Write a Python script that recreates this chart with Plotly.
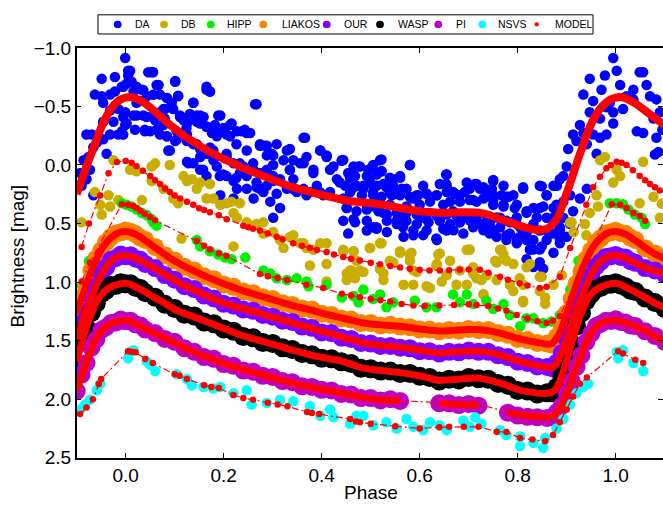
import plotly.graph_objects as go

W, H = 663, 510

# ------------------------------------------------------------------ data
BAND_PHASE = [-0.10, -0.09, -0.08, -0.07, -0.06, -0.05, -0.04, -0.03, -0.02, -0.01,
              0.00, 0.01, 0.02, 0.03, 0.04,
              0.06, 0.08, 0.10, 0.12, 0.14, 0.16, 0.18, 0.20, 0.22, 0.24, 0.26, 0.28,
              0.30, 0.32, 0.34, 0.36, 0.38, 0.40, 0.42, 0.44, 0.46, 0.48, 0.50, 0.52,
              0.54, 0.56, 0.58, 0.60, 0.62, 0.64, 0.66, 0.68, 0.70, 0.72, 0.74, 0.76,
              0.78, 0.80, 0.82, 0.84, 0.86,
              0.87, 0.88, 0.89, 0.90, 0.91, 0.92, 0.93, 0.94, 0.95, 0.96, 0.97, 0.98,
              0.99, 1.00, 1.01, 1.02, 1.03, 1.04,
              1.06, 1.08, 1.10]

DA_MODEL = [0.25, 0.13, 0.01, -0.10, -0.21, -0.32, -0.41, -0.48, -0.53, -0.56,
            -0.575, -0.58, -0.57, -0.55, -0.525,
            -0.455, -0.38, -0.31, -0.245, -0.195, -0.14, -0.095, -0.05, -0.015, 0.027,
            0.058, 0.093, 0.125, 0.158, 0.188, 0.21, 0.233, 0.255, 0.275, 0.295, 0.31,
            0.318, 0.325, 0.336, 0.35, 0.367, 0.382, 0.394, 0.402, 0.408, 0.407, 0.404,
            0.403, 0.407, 0.425, 0.455, 0.485, 0.513, 0.538, 0.556, 0.545,
            0.51, 0.46, 0.36, 0.24, 0.12, -0.01, -0.13, -0.25, -0.35, -0.43, -0.49,
            -0.53, -0.56, -0.575, -0.58, -0.57, -0.55, -0.527,
            -0.465, -0.40, -0.34]

LIAKOS_MODEL = [1.27, 1.14, 1.02, 0.905, 0.81, 0.725, 0.665, 0.62, 0.59, 0.572,
                0.567, 0.575, 0.592, 0.615, 0.645,
                0.705, 0.765, 0.82, 0.865, 0.905, 0.945, 0.98, 1.015, 1.045, 1.075,
                1.10, 1.125, 1.15, 1.175, 1.20, 1.22, 1.24, 1.265, 1.285, 1.305, 1.325,
                1.345, 1.357, 1.365, 1.37, 1.377, 1.388, 1.40, 1.41, 1.418, 1.416, 1.41,
                1.405, 1.405, 1.415, 1.432, 1.455, 1.48, 1.50, 1.515, 1.53,
                1.525, 1.475, 1.39, 1.27, 1.14, 1.02, 0.905, 0.81, 0.725, 0.665, 0.62,
                0.59, 0.572, 0.567, 0.575, 0.592, 0.615, 0.645,
                0.705, 0.76, 0.80]
LIAKOS_DATA = [1.28, 1.13, 1.03, 0.90, 0.80, 0.73, 0.66, 0.615, 0.585, 0.575,
               0.56, 0.57, 0.59, 0.62, 0.64,
               0.70, 0.77, 0.815, 0.87, 0.90, 0.95, 0.975, 1.02, 1.04, 1.08,
               1.095, 1.13, 1.145, 1.18, 1.195, 1.225, 1.235, 1.27, 1.28, 1.31, 1.32,
               1.35, 1.35, 1.37, 1.365, 1.38, 1.385, 1.405, 1.405, 1.42, 1.41, 1.415,
               1.40, 1.41, 1.41, 1.435, 1.45, 1.485, 1.495, 1.52, 1.525,
               1.535, 1.465, 1.395, 1.265, 1.145, 1.015, 0.91, 0.805, 0.73, 0.66, 0.625,
               0.585, 0.575, 0.562, 0.58, 0.588, 0.62, 0.64,
               0.71, 0.755, 0.805]

OUR_MODEL = [1.49, 1.36, 1.24, 1.13, 1.03, 0.94, 0.87, 0.82, 0.79, 0.775,
             0.772, 0.78, 0.795, 0.815, 0.838,
             0.885, 0.935, 0.985, 1.03, 1.068, 1.108, 1.145, 1.178, 1.205, 1.227,
             1.25, 1.275, 1.30, 1.323, 1.348, 1.372, 1.395, 1.42, 1.443, 1.467, 1.49,
             1.515, 1.53, 1.54, 1.548, 1.555, 1.568, 1.582, 1.596, 1.605, 1.60, 1.592,
             1.59, 1.59, 1.60, 1.618, 1.645, 1.672, 1.695, 1.713, 1.728,
             1.73, 1.69, 1.60, 1.49, 1.36, 1.24, 1.13, 1.03, 0.94, 0.87, 0.82,
             0.79, 0.775, 0.772, 0.78, 0.795, 0.815, 0.838,
             0.875, 0.905, 0.93]
OUR_DATA = [1.50, 1.35, 1.25, 1.12, 1.04, 0.93, 0.875, 0.81, 0.795, 0.765,
            0.78, 0.77, 0.80, 0.81, 0.845,
            0.88, 0.94, 0.98, 1.035, 1.06, 1.115, 1.14, 1.185, 1.20, 1.235,
            1.245, 1.28, 1.295, 1.33, 1.34, 1.38, 1.39, 1.43, 1.435, 1.475, 1.485,
            1.52, 1.525, 1.545, 1.545, 1.56, 1.565, 1.59, 1.59, 1.61, 1.595, 1.60,
            1.585, 1.595, 1.595, 1.625, 1.64, 1.68, 1.69, 1.72, 1.725,
            1.735, 1.685, 1.605, 1.485, 1.365, 1.235, 1.135, 1.025, 0.945, 0.865, 0.825,
            0.785, 0.78, 0.768, 0.785, 0.79, 0.82, 0.835,
            0.88, 0.90, 0.935]

WASP_MODEL = [1.68, 1.52, 1.38, 1.27, 1.17, 1.11, 1.065, 1.04, 1.025, 1.013,
              1.01, 1.02, 1.04, 1.062, 1.085,
              1.135, 1.18, 1.232, 1.268, 1.298, 1.33, 1.363, 1.395, 1.428, 1.459,
              1.483, 1.507, 1.531, 1.555, 1.58, 1.603, 1.626, 1.642, 1.658, 1.674, 1.70,
              1.73, 1.744, 1.755, 1.764, 1.773, 1.786, 1.80, 1.82, 1.84, 1.835, 1.828,
              1.822, 1.82, 1.835, 1.858, 1.885, 1.917, 1.935, 1.948, 1.95,
              1.94, 1.90, 1.80, 1.67, 1.52, 1.38, 1.26, 1.165, 1.10, 1.065, 1.04,
              1.025, 1.013, 1.01, 1.02, 1.043, 1.063, 1.085,
              1.13, 1.178, 1.22]
WASP_DATA = [1.70, 1.51, 1.39, 1.26, 1.18, 1.10, 1.07, 1.03, 1.03, 1.005,
             1.015, 1.015, 1.045, 1.055, 1.09,
             1.13, 1.19, 1.225, 1.275, 1.29, 1.34, 1.355, 1.40, 1.42, 1.465,
             1.475, 1.515, 1.525, 1.56, 1.575, 1.61, 1.62, 1.65, 1.655, 1.68, 1.695,
             1.735, 1.74, 1.76, 1.76, 1.78, 1.78, 1.805, 1.815, 1.845, 1.83, 1.835,
             1.815, 1.825, 1.83, 1.865, 1.88, 1.925, 1.93, 1.955, 1.945,
             1.945, 1.895, 1.805, 1.665, 1.525, 1.375, 1.265, 1.16, 1.105, 1.06, 1.045,
             1.02, 1.018, 1.005, 1.025, 1.04, 1.07, 1.08,
             1.135, 1.175, 1.225]

PI_MODEL = [1.92, 1.80, 1.68, 1.57, 1.48, 1.42, 1.38, 1.355, 1.34, 1.33,
            1.328, 1.335, 1.355, 1.378, 1.40,
            1.44, 1.478, 1.518, 1.56, 1.60, 1.632, 1.663, 1.695, 1.722, 1.746,
            1.77, 1.793, 1.817, 1.84, 1.862, 1.882, 1.90, 1.915, 1.93, 1.947, 1.965,
            1.982, 1.995, 2.005, 2.008, 2.01, 2.015, 2.02, 2.025, 2.032, 2.04, 2.046,
            2.048, 2.05, 2.065, 2.09, 2.11, 2.132, 2.142, 2.148, 2.155,
            2.15, 2.115, 2.05, 1.95, 1.84, 1.73, 1.62, 1.515, 1.435, 1.38, 1.35,
            1.336, 1.328, 1.325, 1.335, 1.348, 1.362, 1.378,
            1.415, 1.465, 1.505]
PI_DATA = [1.93, 1.79, 1.69, 1.56, 1.49, 1.41, 1.385, 1.35, 1.345, 1.32,
           1.335, 1.33, 1.36, 1.37, 1.405,
           1.435, 1.485, 1.51, 1.565, 1.595, 1.64, 1.655, 1.70, 1.715, 1.755,
           1.765, 1.80, 1.81, 1.845, 1.855, 1.89, 1.895, 1.92, 1.925, 1.955, 1.96,
           1.99, 1.99, 2.01, 2.00, 2.015, None, None, None, 2.035, 2.035, 2.05,
           2.04, 2.055, None, None, 2.115, 2.14, 2.15, 2.155, 2.16,
           2.155, 2.11, 2.055, 1.945, 1.845, 1.725, 1.625, 1.51, 1.44, 1.375, 1.355,
           1.33, 1.332, 1.318, 1.34, 1.345, 1.37, 1.375,
           1.42, 1.46, 1.51]

DA_POINTS = [
    (-0.001, -0.914), (0.009, -0.805), (0.005, -0.764), (-0.008, -0.669), (-0.049, -0.737),
    (-0.063, -0.601), (-0.049, -0.587), (-0.032, -0.601), (-0.022, -0.628), (0.002, -0.696),
    (0.012, -0.71), (0.022, -0.669), (0.033, -0.642), (0.046, -0.792), (0.056, -0.792),
    (0.067, -0.683), (0.07, -0.601), (0.084, -0.573), (0.101, -0.71), (0.107, -0.587),
    (0.094, -0.532), (0.08, -0.478), (0.07, -0.451), (0.056, -0.423), (0.043, -0.41),
    (0.022, -0.423), (-0.001, -0.451), (-0.015, -0.478), (-0.032, -0.464), (-0.046, -0.369),
    (-0.08, -0.26), (-0.069, -0.26), (-0.059, -0.191), (-0.046, -0.219), (-0.032, -0.26),
    (-0.015, -0.26), (-0.008, -0.287), (0.002, -0.355), (0.019, -0.301), (0.039, -0.287),
    (0.05, -0.287), (0.07, -0.26), (0.084, -0.246), (0.101, -0.205), (0.087, -0.123),
    (0.111, -0.423), (0.118, -0.382), (0.125, -0.355), (0.131, -0.396), (0.138, -0.532),
    (0.145, -0.423), (0.152, -0.355), (0.159, -0.41), (0.165, -0.642), (0.172, -0.628),
    (0.176, -0.273), (0.165, -0.328), (0.182, -0.342), (0.193, -0.423), (0.186, -0.26),
    (0.199, -0.315), (0.206, -0.26), (0.213, -0.342), (0.227, -0.287), (0.237, -0.287),
    (0.247, -0.273), (0.267, -0.519), (0.274, -0.178), (0.284, -0.164), (0.298, -0.096),
    (0.308, -0.178), (0.288, -0.082), (0.301, 0.0), (0.329, -0.123), (0.342, -0.041),
    (0.335, 0.04), (0.356, -0.014), (0.366, -0.232), (0.369, -0.069), (0.383, 0.04),
    (0.397, -0.123), (0.41, -0.082), (0.424, 0.013), (0.441, -0.041), (0.454, 0.068),
    (0.465, 0.013), (0.471, 0.177), (0.458, 0.231), (0.444, 0.286), (0.451, 0.368),
    (0.465, 0.463), (0.431, 0.122), (0.417, 0.231), (0.403, 0.259), (0.39, 0.177),
    (0.376, 0.231), (0.363, 0.204), (0.349, 0.231), (0.342, 0.122), (0.329, 0.204),
    (0.315, 0.122), (0.301, 0.095), (0.295, 0.313), (0.301, 0.45), (0.315, 0.368),
    (0.288, 0.177), (0.281, 0.231), (0.267, 0.149), (0.247, 0.095), (0.233, 0.068),
    (0.22, 0.136), (0.206, 0.095), (0.199, 0.081), (0.186, 0.013), (0.193, 0.259),
    (0.22, 0.286), (0.227, 0.204), (0.247, 0.204), (0.261, 0.286), (0.274, 0.204),
    (0.274, 0.068), (0.261, 0.04), (0.24, 0.013), (0.22, -0.014), (0.206, -0.069),
    (0.179, -0.123), (0.165, -0.096), (0.152, -0.137), (0.138, -0.178), (0.125, -0.205),
    (0.125, -0.028), (0.138, -0.014), (0.152, 0.04), (0.165, 0.095), (0.125, -0.26),
    (0.104, -0.287), (0.077, -0.342), (-0.086, -0.041), (-0.093, 0.068), (-0.09, 0.177),
    (-0.066, 0.259), (-0.08, 0.122), (-0.073, 0.04), (-0.076, -0.069), (-0.039, -0.096),
    (-0.066, -0.151), (-0.022, -0.751), (-0.046, -0.532), (0.029, -0.546), (0.043, -0.587),
    (-0.025, -0.369), (0.022, -0.532),
    (0.478, 0.013), (0.495, 0.04), (0.502, 0.027), (0.519, -0.041), (0.522, 0.054),
    (0.498, 0.136), (0.485, 0.204), (0.512, 0.177), (0.532, 0.19), (0.546, 0.122),
    (0.56, 0.109), (0.573, 0.204), (0.553, 0.245), (0.58, 0.0), (0.594, 0.259),
    (0.614, 0.245), (0.634, 0.259), (0.655, 0.081), (0.655, 0.177), (0.668, 0.231),
    (0.682, 0.259), (0.702, 0.204), (0.716, 0.163), (0.723, 0.204), (0.737, 0.259),
    (0.75, 0.136), (0.777, 0.272), (0.747, 0.204), (0.702, 0.30), (0.519, 0.286),
    (0.539, 0.34), (0.573, 0.354), (0.60, 0.34), (0.621, 0.313), (0.648, 0.34),
    (0.682, 0.313), (0.716, 0.313), (0.75, 0.34), (0.771, 0.34), (0.798, 0.34),
    (0.811, 0.204), (0.832, 0.368), (0.849, 0.182), (0.859, 0.259), (0.873, 0.177),
    (0.886, 0.122), (0.893, 0.095), (0.90, 0.013), (0.903, -0.137), (0.913, -0.26),
    (0.92, -0.205), (0.927, -0.342), (0.934, -0.273), (0.941, -0.178), (0.947, -0.451),
    (0.954, -0.26), (0.961, -0.096), (0.968, -0.232), (0.981, -0.26), (0.995, -0.355),
    (1.015, -0.478), (1.022, -0.587), (1.009, -0.683), (1.002, -0.805), (0.995, -0.914),
    (0.978, -0.764), (0.947, -0.737), (0.934, -0.601), (0.954, -0.546), (0.971, -0.642),
    (0.988, -0.532), (1.036, -0.642), (1.049, -0.792), (1.056, -0.792), (1.063, -0.683),
    (1.07, -0.587), (1.083, -0.56), (1.043, -0.287), (1.056, -0.273), (1.077, -0.396),
    (1.083, -0.232), (1.087, -0.11), (1.036, -0.56), (0.968, -0.396), (0.981, -0.492),
    (0.995, -0.451), (0.893, 0.45), (0.879, 0.34), (0.859, 0.45), (0.845, 0.559),
    (0.832, 0.641), (0.818, 0.586), (0.798, 0.668), (0.777, 0.60), (0.75, 0.559),
    (0.73, 0.504), (0.682, 0.49), (0.655, 0.559), (0.634, 0.627), (0.614, 0.559),
    (0.587, 0.60), (0.566, 0.531), (0.553, 0.477), (0.526, 0.409), (0.505, 0.531),
    (0.492, 0.559), (0.845, 0.368), (0.825, 0.722), (0.805, 0.613), (0.886, 0.531),
    (0.907, 0.259), (0.913, 0.395), (0.927, 0.286), (0.941, 0.204), (0.893, 0.313),
    (0.886, 0.641), (0.492, 0.34), (0.512, 0.368), (0.566, 0.422), (0.607, 0.45),
    (0.641, 0.45), (0.668, 0.395), (0.696, 0.45), (0.716, 0.477), (0.764, 0.45),
    (0.784, 0.49), (0.798, 0.504), (0.75, 0.259), (0.662, 0.313), (0.587, 0.286),
    (0.539, 0.231), (0.505, 0.231), (0.641, 0.163), (0.607, 0.177), (0.696, 0.149),
    (0.771, 0.177), (0.791, 0.259), (0.818, 0.395), (0.832, 0.504), (0.859, 0.559),
    (0.873, 0.45), (0.832, 0.722), (0.849, 0.695), (0.505, 0.0), (1.09, -0.45),
    (1.095, -0.30), (1.08, -0.09),
    # denser core, second reading
    (0.444, -0.042), (0.475, 0.013), (0.502, 0.027), (0.522, -0.047), (0.522, 0.054),
    (0.580, 0.0), (0.468, 0.095), (0.492, 0.095), (0.512, 0.081), (0.539, 0.108),
    (0.560, 0.095), (0.448, 0.177), (0.465, 0.190), (0.485, 0.177), (0.505, 0.177),
    (0.526, 0.163), (0.546, 0.177), (0.563, 0.204), (0.482, 0.258), (0.505, 0.258),
    (0.522, 0.272), (0.543, 0.258), (0.560, 0.258), (0.580, 0.272), (0.597, 0.258),
    (0.614, 0.245), (0.635, 0.258), (0.655, 0.231), (0.672, 0.245), (0.692, 0.231),
    (0.713, 0.163), (0.730, 0.190), (0.750, 0.128), (0.747, 0.204), (0.767, 0.258),
    (0.781, 0.272), (0.654, 0.081), (0.654, 0.163), (0.709, 0.299), (0.730, 0.286),
    (0.750, 0.299), (0.771, 0.354), (0.794, 0.368), (0.811, 0.190), (0.845, 0.177),
    (0.859, 0.258), (0.880, 0.177), (0.798, 0.449), (0.818, 0.408), (0.839, 0.449),
    (0.852, 0.354), (0.873, 0.368), (0.451, 0.368), (0.471, 0.395), (0.492, 0.381),
    (0.516, 0.395), (0.533, 0.422), (0.553, 0.408), (0.573, 0.408), (0.594, 0.422),
    (0.614, 0.436), (0.635, 0.436), (0.655, 0.422), (0.675, 0.436), (0.696, 0.436),
    (0.716, 0.449), (0.737, 0.436), (0.757, 0.449), (0.777, 0.477), (0.805, 0.531),
    (0.444, 0.477), (0.468, 0.490), (0.492, 0.477), (0.512, 0.531), (0.533, 0.477),
    (0.553, 0.504), (0.573, 0.477), (0.594, 0.504), (0.618, 0.490), (0.641, 0.477),
    (0.662, 0.504), (0.682, 0.490), (0.703, 0.477), (0.723, 0.504), (0.743, 0.504),
    (0.764, 0.531), (0.784, 0.586), (0.454, 0.586), (0.512, 0.545), (0.533, 0.572),
    (0.567, 0.613), (0.587, 0.558), (0.607, 0.599), (0.635, 0.640), (0.648, 0.545),
    (0.669, 0.558), (0.689, 0.586), (0.709, 0.531), (0.730, 0.558), (0.743, 0.586),
    (0.757, 0.613), (0.777, 0.640), (0.798, 0.627), (0.818, 0.640), (0.825, 0.722),
    (0.845, 0.722), (0.859, 0.640), (0.873, 0.586), (0.886, 0.558), (0.900, 0.613),
    (0.907, 0.504), (0.886, 0.668), (0.873, 0.749), (0.845, 0.831), (0.818, 0.804),
    (0.832, 0.872), (0.852, 0.886),
    (0.005, -0.805), (0.053, -0.791), (0.101, -0.717), (0.165, -0.668), (0.172, -0.627),
    (-0.005, -0.668), (0.016, -0.627), (0.036, -0.641), (0.063, -0.682), (0.084, -0.573),
    (0.107, -0.592), (0.029, -0.546), (0.056, -0.600), (0.077, -0.477), (0.097, -0.477),
    (0.138, -0.532), (0.264, -0.518), (-0.005, -0.409), (0.016, -0.423), (0.036, -0.423),
    (0.060, -0.382), (0.080, -0.396), (0.111, -0.409), (0.131, -0.436), (0.152, -0.423),
    (0.189, -0.423), (-0.001, -0.341), (0.039, -0.300), (0.063, -0.300), (0.084, -0.246),
    (0.104, -0.218), (0.124, -0.314), (0.145, -0.368), (0.165, -0.327), (0.192, -0.286),
    (0.216, -0.355), (0.243, -0.300), (0.254, -0.273), (-0.005, -0.259), (0.090, -0.123),
    (0.128, -0.014), (0.152, -0.068), (0.172, -0.150), (0.186, -0.246), (0.213, -0.246),
    (0.226, -0.177), (0.247, -0.123), (0.274, -0.164), (0.288, -0.164), (0.301, -0.082),
    (0.322, -0.041), (0.335, -0.136), (0.363, -0.232), (0.397, -0.123), (0.410, -0.068),
    (0.441, -0.035), (0.192, 0.095), (0.226, 0.109), (0.267, 0.191), (0.301, 0.136),
    (0.335, 0.041), (0.363, -0.014), (0.383, 0.068), (0.417, 0.041), (0.437, 0.150),
    (0.458, 0.109), (0.342, 0.205), (0.369, 0.259), (0.397, 0.232), (0.458, 0.232),
    (0.308, 0.246), (0.260, -0.014), (0.288, 0.041), (0.158, 0.041), (0.179, -0.041),
    (0.145, -0.177), (0.206, -0.095), (0.233, -0.014),
]

DB_POINTS = [
    (-0.090, 0.49), (-0.063, 0.231), (-0.052, 0.34), (-0.049, 0.422), (-0.035, 0.259),
    (-0.032, 0.354), (-0.025, -0.041), (-0.015, 0.30), (0.009, 0.04), (0.022, 0.054),
    (0.033, 0.30), (0.053, 0.013), (0.06, -0.014), (0.053, 0.136), (0.077, 0.204),
    (0.09, 0.0), (0.097, 0.286), (0.107, 0.327), (0.118, 0.095), (0.125, 0.136),
    (0.135, 0.122), (0.145, 0.204), (0.152, 0.149), (0.165, 0.286), (0.172, 0.163),
    (0.179, 0.286), (0.193, 0.34), (0.206, 0.327), (0.216, 0.313), (0.233, 0.327),
    (0.22, 0.409), (0.227, 0.45), (0.247, 0.49), (0.267, 0.504), (0.281, 0.49),
    (0.301, 0.572), (0.315, 0.641), (0.322, 0.709), (0.342, 0.60), (0.356, 0.668),
    (0.369, 0.709), (0.397, 0.668), (0.41, 0.668), (0.444, 0.736), (0.465, 0.736),
    (0.114, 0.627), (0.22, 0.695), (0.281, 0.586), (0.335, 0.614), (0.363, 0.668),
    (0.376, 0.859), (0.383, 0.723), (0.41, 0.995), (0.41, 0.845), (0.451, 0.927),
    (0.461, 0.90), (0.471, 0.818), (0.498, 0.709), (0.522, 0.668), (0.56, 0.736),
    (0.583, 0.75), (0.641, 0.755), (0.702, 0.722), (0.767, 0.722), (0.91, 0.49),
    (0.937, 0.504), (0.947, 0.409), (0.964, 0.354), (0.961, 0.259), (0.968, -0.041),
    (0.978, -0.069), (0.995, 0.149), (1.002, 0.04), (1.009, 0.095), (1.049, 0.327),
    (1.056, -0.028), (1.077, 0.272), (1.09, 0.45), (0.485, 0.914), (0.519, 0.886),
    (0.526, 0.982), (0.546, 0.832), (0.58, 0.764), (0.594, 0.914), (0.614, 1.036),
    (0.634, 0.859), (0.655, 0.941), (0.696, 0.723), (0.709, 0.927), (0.726, 0.982),
    (0.73, 1.105), (0.754, 0.818), (0.777, 0.818), (0.804, 0.968), (0.811, 1.159),
    (0.825, 0.845), (0.849, 0.955), (0.856, 1.132), (0.856, 1.186), (1.094, 0.33),
    (0.94, 0.60),
    (0.444, 0.723), (0.465, 0.736), (0.519, 0.668), (0.499, 0.709), (0.560, 0.750),
    (0.580, 0.764), (0.638, 0.764), (0.699, 0.723), (0.764, 0.723), (0.771, 0.764),
    (0.458, 0.900), (0.478, 0.900), (0.519, 0.886), (0.539, 0.818), (0.580, 0.818),
    (0.587, 0.900), (0.635, 0.845), (0.662, 0.818), (0.682, 0.900), (0.709, 0.873),
    (0.757, 0.832), (0.791, 0.845), (0.818, 0.873), (0.451, 0.982), (0.468, 0.968),
    (0.526, 0.927), (0.567, 1.023), (0.587, 1.023), (0.621, 1.050), (0.645, 0.995),
    (0.675, 1.023), (0.696, 1.023), (0.716, 0.968), (0.737, 0.941), (0.757, 0.982),
    (0.784, 1.023), (0.811, 1.023), (0.845, 0.954), (0.791, 1.077), (0.730, 1.104),
    (0.811, 1.173), (0.845, 1.077), (0.873, 1.023), (0.890, 0.941), (0.907, 0.491),
    (0.914, 0.573),
]
DB_MODEL_PHASE = [-0.09, -0.075, -0.052, -0.035, -0.018, 0.0, 0.012, 0.022, 0.035, 0.05,
                  0.06, 0.07, 0.08, 0.09, 0.10, 0.111, 0.125, 0.138, 0.15, 0.16, 0.172,
                  0.19, 0.206, 0.24, 0.25, 0.26, 0.274, 0.29, 0.308, 0.32, 0.342, 0.36,
                  0.376, 0.39, 0.41, 0.425, 0.444, 0.46, 0.478, 0.50, 0.519, 0.54, 0.56,
                  0.58, 0.60, 0.62, 0.641, 0.66, 0.682, 0.70, 0.723, 0.74, 0.764, 0.78,
                  0.804, 0.82, 0.845, 0.859, 0.886, 0.907, 0.94, 0.954, 0.968, 0.981,
                  0.99, 1.002, 1.012, 1.022, 1.035, 1.049, 1.06, 1.07, 1.08, 1.09]
DB_MODEL_MAG = [0.70, 0.50, 0.26, 0.07, -0.025, -0.035, -0.02, 0.01, 0.05, 0.095,
                0.13, 0.163, 0.20, 0.23, 0.26, 0.286, 0.315, 0.34, 0.37, 0.385, 0.403,
                0.43, 0.463, 0.518, 0.532, 0.545, 0.56, 0.585, 0.613, 0.635, 0.668, 0.69,
                0.709, 0.725, 0.744, 0.765, 0.785, 0.80, 0.815, 0.835, 0.848, 0.862, 0.875,
                0.887, 0.895, 0.90, 0.90, 0.898, 0.895, 0.893, 0.895, 0.92, 0.955, 0.98,
                1.01, 1.03, 1.05, 1.04, 0.955, 0.709, 0.34, 0.19, 0.10, 0.027,
                0.0, -0.028, -0.02, 0.0, 0.045, 0.095, 0.13, 0.163, 0.19, 0.218]

HIPP_POINTS = [
    (-0.089, 1.03), (-0.075, 0.82), (-0.008, 0.327), (0.002, 0.34), (0.012, 0.354),
    (0.022, 0.381), (0.033, 0.409), (0.043, 0.428), (0.053, 0.463), (0.063, 0.518),
    (0.056, 0.49), (0.145, 0.641), (0.152, 0.695), (0.172, 0.736), (0.189, 0.764),
    (0.203, 0.791), (0.216, 0.804), (0.244, 0.791), (0.281, 0.90), (0.295, 0.927),
    (0.308, 0.968), (0.329, 0.982), (0.349, 0.968), (0.369, 0.995), (0.373, 1.036),
    (0.41, 1.023), (0.441, 1.132), (0.465, 1.118), (0.475, 1.173), (0.485, 1.064),
    (0.505, 1.145), (0.519, 1.105), (0.532, 1.214), (0.546, 1.173), (0.59, 1.159),
    (0.614, 1.214), (0.634, 1.214), (0.668, 1.105), (0.696, 1.105), (0.682, 1.173),
    (0.709, 1.186), (0.736, 1.159), (0.75, 1.227), (0.771, 1.186), (0.784, 1.282),
    (0.805, 1.377), (0.818, 1.309), (0.832, 1.309), (0.852, 1.35), (0.869, 1.336),
    (0.886, 1.282), (0.907, 1.064), (0.924, 0.818), (0.988, 0.327), (1.002, 0.327),
    (1.015, 0.335), (1.026, 0.381), (1.039, 0.422), (1.053, 0.45), (1.06, 0.504),
]
HIPP_MODEL_PHASE = [-0.09, -0.073, -0.008, 0.005, 0.015, 0.022, 0.03, 0.039, 0.05, 0.06,
                    0.145, 0.16, 0.172, 0.19, 0.206, 0.274, 0.29, 0.31, 0.329, 0.369,
                    0.403, 0.441, 0.46, 0.478, 0.50, 0.52, 0.54, 0.563, 0.587, 0.61, 0.64,
                    0.67, 0.70, 0.716, 0.74, 0.76, 0.777, 0.798, 0.82, 0.84, 0.859, 0.872,
                    0.886, 0.992, 1.009, 1.022, 1.036, 1.049, 1.06]
HIPP_MODEL_MAG = [0.995, 0.832, 0.335, 0.34, 0.35, 0.368, 0.39, 0.417, 0.445, 0.471,
                  0.65, 0.69, 0.722, 0.755, 0.777, 0.93, 0.95, 0.965, 0.982, 1.023,
                  1.05, 1.10, 1.115, 1.13, 1.145, 1.155, 1.165, 1.186, 1.20, 1.205, 1.20,
                  1.195, 1.19, 1.195, 1.205, 1.225, 1.245, 1.28, 1.31, 1.335, 1.35, 1.33,
                  1.29, 0.335, 0.34, 0.368, 0.409, 0.436, 0.477]

NSVS_POINTS = [
    (-0.093, 2.087), (-0.083, 2.046), (-0.073, 2.005), (-0.059, 1.923), (-0.052, 1.868),
    (0.005, 1.65), (0.009, 1.596), (0.016, 1.582), (0.043, 1.677), (0.05, 1.705),
    (0.06, 1.759), (0.104, 1.786), (0.125, 1.827), (0.135, 1.882), (0.159, 1.895),
    (0.179, 1.909), (0.193, 1.895), (0.22, 1.95), (0.247, 1.923), (0.257, 2.046),
    (0.288, 2.032), (0.315, 2.005), (0.342, 2.018), (0.376, 2.059), (0.397, 2.141),
    (0.417, 2.087), (0.424, 2.155), (0.458, 2.209), (0.471, 2.141), (0.485, 2.141),
    (0.505, 2.223), (0.532, 2.196), (0.553, 2.25), (0.573, 2.168), (0.587, 2.236),
    (0.607, 2.264), (0.621, 2.196), (0.641, 2.223), (0.655, 2.264), (0.689, 2.182),
    (0.702, 2.236), (0.713, 2.155), (0.726, 2.209), (0.764, 2.264), (0.777, 2.305),
    (0.805, 2.318), (0.805, 2.40), (0.832, 2.373), (0.852, 2.414), (0.856, 2.332),
    (0.879, 2.25), (0.893, 2.168), (0.907, 2.046), (0.92, 1.95), (0.934, 1.895),
    (0.944, 1.868), (1.002, 1.596), (1.005, 1.65), (1.015, 1.582), (1.036, 1.691),
    (1.056, 1.759),
]
NSVS_MODEL_PHASE = [-0.093, -0.08, -0.067, -0.055, -0.05, 0.005, 0.012, 0.02, 0.04, 0.055,
                    0.10, 0.11, 0.125, 0.16, 0.175, 0.19, 0.22, 0.24, 0.26, 0.29, 0.31,
                    0.33, 0.37, 0.38, 0.395, 0.458, 0.47, 0.478, 0.50, 0.55, 0.60, 0.64,
                    0.66, 0.69, 0.72, 0.757, 0.777, 0.805, 0.83, 0.856, 0.872, 0.886,
                    0.90, 0.913, 0.927, 0.941, 1.005, 1.015, 1.04, 1.056]
NSVS_MODEL_MAG = [2.127, 2.07, 2.0, 1.87, 1.827, 1.59, 1.595, 1.60, 1.656, 1.691,
                  1.787, 1.80, 1.827, 1.88, 1.895, 1.905, 1.964, 1.99, 2.005, 2.03, 2.045,
                  2.06, 2.11, 2.118, 2.127, 2.17, 2.19, 2.196, 2.21, 2.23, 2.25, 2.24,
                  2.236, 2.236, 2.236, 2.277, 2.28, 2.332, 2.345, 2.36, 2.305, 2.196,
                  2.087, 1.977, 1.868, 1.814, 1.59, 1.61, 1.664, 1.691]

SERIES = ["DA", "DB", "HIPP", "LIAKOS", "OUR", "WASP", "PI", "NSVS", "MODEL"]
COLORS = {"DA": "#0000ff", "DB": "#c9ad00", "HIPP": "#00f000", "LIAKOS": "#ff8000",
          "OUR": "#8000ff", "WASP": "#000000", "PI": "#c000c0", "NSVS": "#00ffff",
          "MODEL": "#ff0000"}

for arr in (DA_MODEL, LIAKOS_MODEL, LIAKOS_DATA, OUR_MODEL, OUR_DATA, WASP_MODEL,
            WASP_DATA, PI_MODEL, PI_DATA):
    assert len(arr) == len(BAND_PHASE), len(arr)
assert len(DB_MODEL_PHASE) == len(DB_MODEL_MAG)
assert len(HIPP_MODEL_PHASE) == len(HIPP_MODEL_MAG)
assert len(NSVS_MODEL_PHASE) == len(NSVS_MODEL_MAG)

# ------------------------------------------------------------------ figure
FONT = "Liberation Sans, Arial, Helvetica, sans-serif"
RED = COLORS["MODEL"]
DASHDOT = "7px,3px,2px,3px"

fig = go.Figure()


def pts(points):
    return [p[0] for p in points], [p[1] for p in points]


def scatter(x, y, name, size):
    fig.add_trace(go.Scatter(x=x, y=y, mode="markers", name=name, showlegend=False,
                             marker=dict(color=COLORS[name], size=size, line=dict(width=0)),
                             hoverinfo="skip"))


# observed data
x, y = pts(DA_POINTS); scatter(x, y, "DA", 10.5)
x, y = pts(DB_POINTS); scatter(x, y, "DB", 10.5)
x, y = pts(HIPP_POINTS); scatter(x, y, "HIPP", 10.5)
scatter(BAND_PHASE, LIAKOS_DATA, "LIAKOS", 18)
scatter(BAND_PHASE, OUR_DATA, "OUR", 18)
scatter(BAND_PHASE, WASP_DATA, "WASP", 19)
scatter(BAND_PHASE, PI_DATA, "PI", 18)
x, y = pts(NSVS_POINTS); scatter(x, y, "NSVS", 10.5)

# model curves
fig.add_trace(go.Scatter(x=BAND_PHASE, y=DA_MODEL, mode="lines", name="MODEL",
                         showlegend=False, hoverinfo="skip",
                         line=dict(color=RED, width=8, shape="spline", smoothing=0.6)))

for mx, my in ((DB_MODEL_PHASE, DB_MODEL_MAG), (HIPP_MODEL_PHASE, HIPP_MODEL_MAG),
               (NSVS_MODEL_PHASE, NSVS_MODEL_MAG)):
    fig.add_trace(go.Scatter(x=mx, y=my, mode="lines+markers", name="MODEL",
                             showlegend=False, hoverinfo="skip",
                             line=dict(color=RED, width=1.2, dash=DASHDOT),
                             marker=dict(color=RED, size=6.5, line=dict(width=0))))

for model, data in ((LIAKOS_MODEL, LIAKOS_DATA), (OUR_MODEL, OUR_DATA),
                    (WASP_MODEL, WASP_DATA), (PI_MODEL, PI_DATA)):
    fig.add_trace(go.Scatter(x=BAND_PHASE, y=model, mode="lines", name="MODEL",
                             showlegend=False, hoverinfo="skip",
                             line=dict(color=RED, width=1.2, dash=DASHDOT)))
    thick = [m if d is not None else None for m, d in zip(model, data)]
    fig.add_trace(go.Scatter(x=BAND_PHASE, y=thick, mode="lines", name="MODEL",
                             showlegend=False, hoverinfo="skip", connectgaps=False,
                             line=dict(color=RED, width=7, shape="spline", smoothing=0.6)))

# empty trace carrying the right-hand tick axis
fig.add_trace(go.Scatter(x=[], y=[], yaxis="y2", showlegend=False, hoverinfo="skip"))

# ------------------------------------------------------------------ layout
PLOT_L, PLOT_T, PLOT_B = 76.7, 39.5, 467.0
XRANGE = [-0.1, 1.0965]
YRANGE = [2.5, -1.0]

axis_common = dict(showgrid=False, zeroline=False, ticks="inside", ticklen=5, tickwidth=1,
                   tickcolor="black", linecolor="black", linewidth=1.5,
                   tickfont=dict(family=FONT, size=19, color="black"))

fig.update_layout(
    width=W, height=H, margin=dict(l=0, r=0, t=0, b=0, pad=0),
    paper_bgcolor="white", plot_bgcolor="white", showlegend=False,
    xaxis=dict(domain=[PLOT_L / W, 1.0], range=XRANGE, tickvals=[0, 0.2, 0.4, 0.6, 0.8, 1.0],
               tickformat=".1f", showline=True, mirror="ticks", **axis_common),
    yaxis=dict(domain=[1 - PLOT_B / H, 1 - PLOT_T / H], range=YRANGE, tick0=-1.0, dtick=0.5,
               tickformat=".1f", showline=True, mirror=False, **axis_common),
    yaxis2=dict(overlaying="y", side="right", anchor="x", range=YRANGE, tick0=-1.0, dtick=0.5,
                showticklabels=False, showline=False, showgrid=False, zeroline=False,
                ticks="inside", ticklen=5, tickwidth=1, tickcolor="black"),
)

# axis titles
fig.add_annotation(text="Phase", xref="paper", yref="paper", x=370.7 / W, y=1 - 502.7 / H,
                   xanchor="center", yanchor="middle", showarrow=False,
                   font=dict(family=FONT, size=19, color="black"))
fig.add_annotation(text="Brightness [mag]", xref="paper", yref="paper", x=17 / W,
                   y=1 - 257 / H, xanchor="center", yanchor="middle", showarrow=False,
                   textangle=-90, font=dict(family=FONT, size=19, color="black"))

# legend (drawn as a framed key row at the top)
LEG_BOX = (98, 5, 593, 25)
LEG_Y = 15
LEG_KEY_X = {"DA": 117.7, "DB": 164, "HIPP": 210.7, "LIAKOS": 263.3, "OUR": 326.7,
             "WASP": 380, "PI": 438.3, "NSVS": 482.3, "MODEL": 536.7}
LEG_TEXT_X = {"DA": 133, "DB": 179.3, "HIPP": 225, "LIAKOS": 280, "OUR": 342,
              "WASP": 396, "PI": 454, "NSVS": 496, "MODEL": 553}


def px(xp):
    return xp / W


def py(yp):
    return 1 - yp / H


fig.add_shape(type="rect", xref="paper", yref="paper", x0=px(LEG_BOX[0]), x1=px(LEG_BOX[2]),
              y0=py(LEG_BOX[3]), y1=py(LEG_BOX[1]), line=dict(color="black", width=1),
              fillcolor="white", layer="above")
for name in SERIES:
    r = 2.2 if name == "MODEL" else 3.9
    cx = LEG_KEY_X[name]
    fig.add_shape(type="circle", xref="paper", yref="paper", x0=px(cx - r), x1=px(cx + r),
                  y0=py(LEG_Y + r), y1=py(LEG_Y - r), line=dict(width=0),
                  fillcolor=COLORS[name], layer="above")
    fig.add_annotation(text=name, xref="paper", yref="paper", x=px(LEG_TEXT_X[name]),
                       y=py(LEG_Y), xanchor="left", yanchor="middle", showarrow=False,
                       font=dict(family=FONT, size=10.5, color="black"))

# make the page exactly the size of the figure (no default body margin)
POST = ("document.documentElement.style.margin='0';document.body.style.margin='0';"
        "document.body.style.padding='0';document.body.style.overflow='hidden';")
fig.write_html("out.html", post_script=POST)
